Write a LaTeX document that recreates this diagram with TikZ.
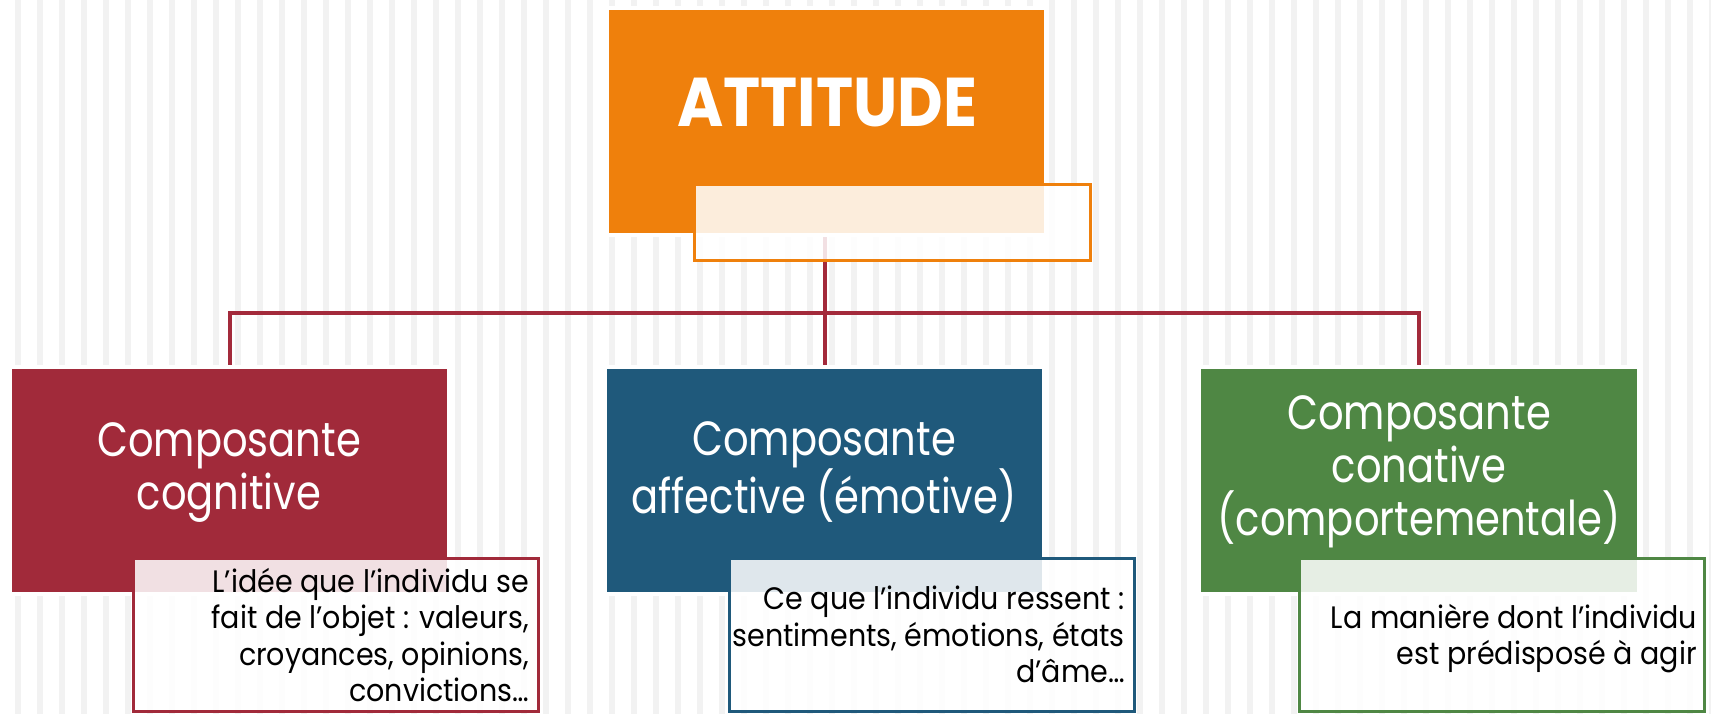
\documentclass[tikz,border=0pt]{standalone}
\usepackage{fontspec}
\setmainfont{Poppins}[FakeStretch=0.92]
\newfontfamily\headfont{Poppins}[FakeStretch=0.835]
\newfontfamily\titlefont{Poppins}[FakeStretch=0.91]
\definecolor{orangeA}{HTML}{EF800C}
\definecolor{redA}{HTML}{A12A3A}
\definecolor{blueA}{HTML}{1F597B}
\definecolor{greenA}{HTML}{4F8744}
\definecolor{stripeA}{HTML}{F2F2F2}
\definecolor{lineA}{HTML}{A32A3B}
\begin{document}
\begin{tikzpicture}[x=1pt,y=-1pt,
  topbox/.style={preaction={draw=white,line width=8pt}, inner sep=0pt,
    minimum width=435pt, minimum height=223pt},
  notebox/.style={draw=#1, line width=3pt, fill=white, fill opacity=0.86,
    inner sep=0pt, minimum width=405pt, minimum height=153pt},
  conn/.style={draw=lineA, line width=4pt},
  headtxt/.style={text=white, align=center, inner sep=0pt,
    font=\headfont\fontsize{48}{53}\selectfont},
  notetxt/.style={text=black, align=right, inner sep=0pt, anchor=east,
    font=\fontsize{31}{36.5}\selectfont}
]
\useasboundingbox (0,0) rectangle (1711,714);
\fill[white] (0,0) rectangle (1711,714);
\foreach \k in {0,...,77} {
  \fill[stripeA] ({15+22*\k},0) rectangle ({21+22*\k},714);
}
% box positions
\node[topbox, fill=orangeA] (att) at (826.5,121.5) {};
\node[topbox, fill=redA] (cog) at (229.5,480.5) {};
\node[topbox, fill=blueA] (aff) at (824.5,480.5) {};
\node[topbox, fill=greenA, minimum width=436pt] (con) at (1419,480.5) {};
% connectors
\coordinate (bus) at (824.5,313);
\draw[conn] (att.south -| bus) -- (bus);
\draw[conn, line join=miter] (cog.north) |- (bus) -| (con.north);
\draw[conn] (bus) -- (aff.north);
% boxes drawn over the connectors
\node[topbox, fill=orangeA] (att2) at (att) {};
\node[topbox, fill=redA] (cog2) at (cog) {};
\node[topbox, fill=blueA] (aff2) at (aff) {};
\node[topbox, fill=greenA, minimum width=436pt] (con2) at (con) {};
% note boxes
\node[notebox=orangeA, minimum width=396pt, minimum height=76pt] (attN) at (892.5,222.5) {};
\node[notebox=redA] (cogN) at (336,635) {};
\node[notebox=blueA] (affN) at (931.5,635) {};
\node[notebox=greenA] (conN) at (1502,635) {};
% texts
\node[text=white, inner sep=0pt, anchor=base,
  font=\titlefont\bfseries\fontsize{69}{69}\selectfont] (attT) at (827,127) {ATTITUDE};
\node[headtxt] (cogT) at (229,472.5) {Composante\\cognitive};
\node[headtxt] (affT) at (824,472) {Composante\\affective (émotive)};
\node[headtxt] (conT) at (1419,472) {Composante\\conative\\(comportementale)};
\node[notetxt] (cogX) at (529,635) {L’idée que l’individu se\\fait de l’objet : valeurs,\\croyances, opinions,\\convictions…};
\node[notetxt] (affX) at (1125,634.5) {Ce que l’individu ressent :\\sentiments, émotions, états\\d’âme…};
\node[notetxt] (conX) at (1697,638.5) {La manière dont l’individu\\est prédisposé à agir};
\end{tikzpicture}
\end{document}
